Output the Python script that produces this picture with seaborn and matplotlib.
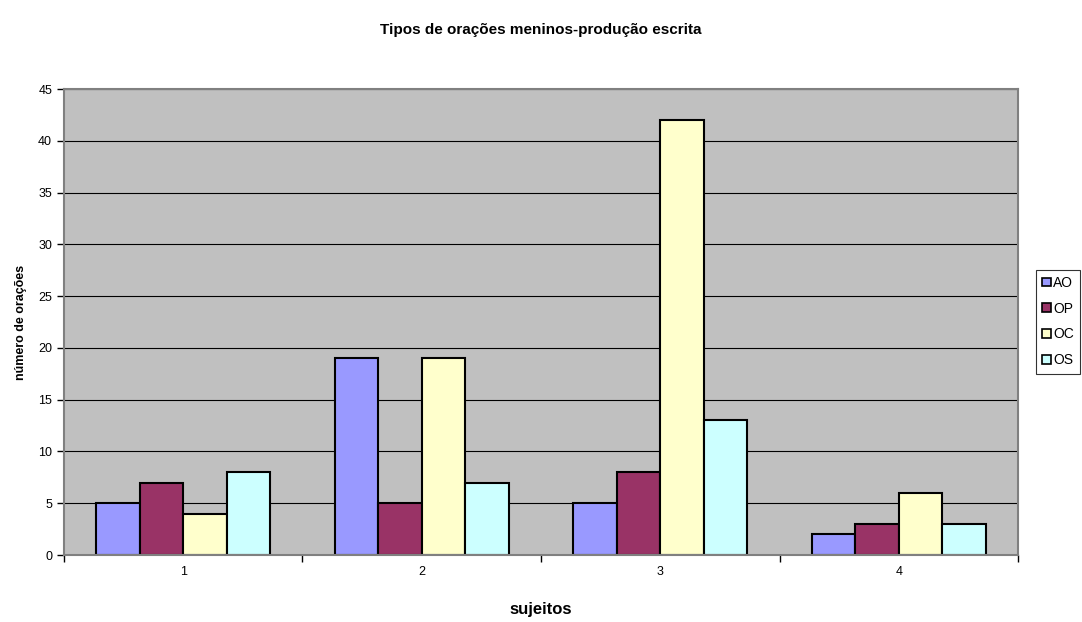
import matplotlib
matplotlib.use("Agg")
import matplotlib.pyplot as plt
import seaborn as sns
import pandas as pd
from matplotlib.patches import Patch

sujeitos = ["1", "2", "3", "4"]
tipos = ["AO", "OP", "OC", "OS"]
ao = [5, 19, 5, 2]
op = [7, 5, 8, 3]
oc = [4, 19, 42, 6]
os_ = [8, 7, 13, 3]
cores = ["#9999FF", "#993366", "#FFFFCC", "#CCFFFF"]

rows = []
for tipo, vals in zip(tipos, [ao, op, oc, os_]):
    for s, v in zip(sujeitos, vals):
        rows.append({"sujeito": s, "tipo": tipo, "valor": v})
df = pd.DataFrame(rows)

sns.set_theme(style="white")
plt.rcParams["font.family"] = ["Liberation Sans", "DejaVu Sans"]
plt.rcParams["text.color"] = "black"
plt.rcParams["axes.labelcolor"] = "black"
plt.rcParams["xtick.color"] = "black"
plt.rcParams["ytick.color"] = "black"

fig = plt.figure(figsize=(10.82, 6.22), dpi=100)
ax = fig.add_axes([0.0591, 0.1077, 0.8818, 0.7492])
ax.set_facecolor("#C0C0C0")

sns.barplot(data=df, x="sujeito", y="valor", hue="tipo", order=sujeitos,
            hue_order=tipos, palette=cores, width=0.73, dodge=True,
            edgecolor="black", linewidth=1.5, saturation=1, ax=ax, legend=False)

ax.set_ylim(0, 45)
ax.set_xlim(-0.5, 3.5)
ax.set_yticks(range(0, 46, 5))
ax.yaxis.grid(True, color="black", linewidth=0.8)
ax.set_axisbelow(True)

ax.set_xticks(range(4))
ax.set_xticklabels(sujeitos, fontsize=9)
ax.set_xticks([-0.5, 0.5, 1.5, 2.5, 3.5], minor=True)
ax.tick_params(axis="x", which="major", length=0, pad=8)
ax.tick_params(axis="x", which="minor", length=5, width=1, color="black", direction="out", bottom=True)
ax.tick_params(axis="y", length=5, width=1, color="black", direction="out", left=True, labelsize=9)

for side in ["top", "right", "left", "bottom"]:
    ax.spines[side].set_color("#808080")
    ax.spines[side].set_linewidth(1.5)

ax.set_xlabel("sujeitos", fontsize=12, fontweight="bold", labelpad=17)
ax.set_ylabel("número de orações", fontsize=9, fontweight="bold", labelpad=8)
fig.suptitle("Tipos de orações meninos-produção escrita", fontsize=11,
             fontweight="bold", y=0.963, color="black")

handles = [Patch(facecolor=c, edgecolor="black", linewidth=1.2, label=t)
           for c, t in zip(cores, tipos)]
leg = fig.legend(handles=handles, loc="center left", bbox_to_anchor=(0.9575, 0.483),
                 frameon=True, fancybox=False, fontsize=10, handlelength=0.6,
                 handleheight=0.6, handletextpad=0.2, borderpad=0.45,
                 labelspacing=0.85, borderaxespad=0)
leg.get_frame().set_edgecolor("black")
leg.get_frame().set_linewidth(0.8)

fig.savefig("out.png", dpi=100)
